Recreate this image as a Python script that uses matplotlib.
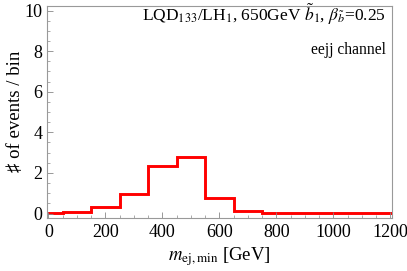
import matplotlib
matplotlib.use("Agg")
import matplotlib.pyplot as plt
import numpy as np
from matplotlib.ticker import MultipleLocator

plt.rcParams['font.family'] = ['Liberation Serif', 'DejaVu Serif']
plt.rcParams['mathtext.fontset'] = 'stix'

bin_edges = [-50, 50, 150, 250, 350, 450, 550, 650, 750, 850, 950, 1050, 1150, 1250]
counts = [0.02, 0.10, 0.33, 0.95, 2.36, 2.79, 0.75, 0.11, 0.05, 0.03, 0.02, 0.015, 0.01]
xticks = [0, 200, 400, 600, 800, 1000, 1200]
yticks = [0, 2, 4, 6, 8, 10]

fig = plt.figure(figsize=(4.07, 2.71), dpi=100)
ax = fig.add_axes([46.5/407, 1 - 218/271, (392 - 46.5)/407, (218 - 5.5)/271])

ax.stairs(counts, bin_edges, color='#ff0000', linewidth=2.1, baseline=None)

ax.set_xlim(-7, 1206)
ax.set_ylim(-0.22, 10.25)
ax.set_xticks(xticks)
ax.set_yticks(yticks)
ax.xaxis.set_minor_locator(MultipleLocator(50))
ax.yaxis.set_minor_locator(MultipleLocator(0.5))
ax.tick_params(which='both', direction='in', top=False, right=False, color='#888888', labelsize=13)
ax.tick_params(axis='x', pad=4)
ax.tick_params(axis='y', pad=3)
ax.tick_params(which='major', length=4, width=0.6)
ax.tick_params(which='minor', length=2, width=0.5)
for s in ax.spines.values():
    s.set_color('#999999')
    s.set_linewidth(0.8)

ax.set_xlabel(r'$m_{\mathrm{ej,min}}$ [GeV]', fontsize=13.5, labelpad=3)
ax.set_ylabel('♯ of events / bin', fontsize=13.5, labelpad=0)

ax.text(0.982, 0.927, r'LQD$_{133}$/LH$_1$, 650GeV $\tilde{b}_1$, $\beta_{\tilde{b}}$=0.25',
        transform=ax.transAxes, ha='right', va='baseline', fontsize=12.5)
ax.text(0.982, 0.77, 'eejj channel', transform=ax.transAxes, ha='right', va='baseline', fontsize=11.2)

fig.savefig('out.png', dpi=100)
